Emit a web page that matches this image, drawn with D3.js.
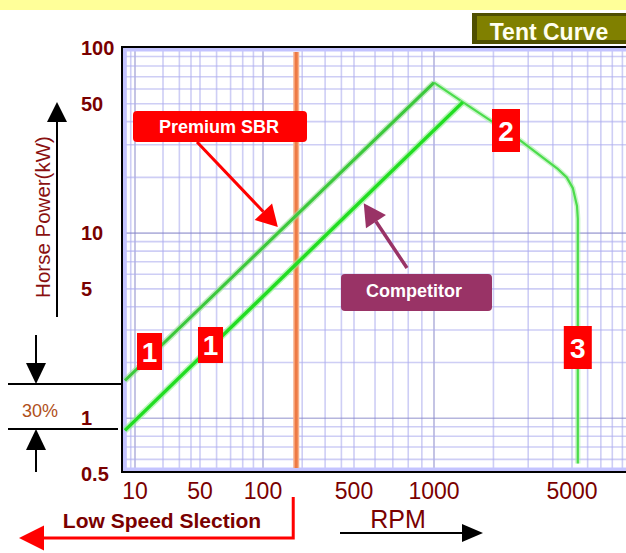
<!DOCTYPE html>
<html>
<head>
<meta charset="utf-8">
<script src="https://cdn.jsdelivr.net/npm/d3@7"></script>
<style>
	body { margin: 0; background: #fff; }
	text { font-family: 'Liberation Sans', Arial, sans-serif; }
</style>
</head>
<body>
<svg id="chart"></svg>
<script>
// tick labels
const rpmTicks = [10, 50, 100, 500, 1000, 5000]
const powerTicks = [100, 50, 10, 5, 1, 0.5]

// curves (rpm / kW)
const premiumRpm = [7.8, 1000]
const premiumKw = [1.6, 65]
const competitorRpm = [7.8, 1400]
const competitorKw = [0.86, 51]
const tentRpm = [1000, 1400, 2700, 4200, 4700, 5050, 5300, 5350, 5350]
const tentKw = [65, 51, 32, 22.4, 20, 17.5, 14, 12, 0.57]

// low speed selection boundary
const lowSpeedRpm = 180

// log paper grid
const gridRpm = [8, 9].concat(...[10, 100, 1000].map(d => d3.range(1, 10).map(k => k * d)))
const gridKw = [0.6, 0.7, 0.8, 0.9].concat(...[1, 10].map(d => d3.range(1, 10).map(k => k * d)))

const DARK_RED = '#7a0000'
const RED = '#ff0000'
const PURPLE = '#993366'

const width = 626
const height = 553
const plot = { left: 122, top: 47, right: 640, bottom: 472 }

const svg = d3.select('#chart')
	.attr('width', width)
	.attr('height', height)

// the x axis of the original is hand drawn, so it is piecewise log
const x = d3.scaleLog()
	.domain(rpmTicks)
	.range([135, 200, 263, 354, 434, 572])

const y = d3.scaleLog()
	.domain([0.5, 100])
	.range([474, 48])

// yellow band on top
svg.append('rect')
	.attr('x', 0).attr('y', 0)
	.attr('width', width).attr('height', 10)
	.attr('fill', '#ffff99')

svg.append('clipPath').attr('id', 'plot-clip')
	.append('rect')
	.attr('x', plot.left).attr('y', plot.top)
	.attr('width', plot.right - plot.left).attr('height', plot.bottom - plot.top)

let plotG = svg.append('g').attr('clip-path', 'url(#plot-clip)')

plotG.append('rect')
	.attr('x', plot.left).attr('y', plot.top)
	.attr('width', plot.right - plot.left).attr('height', plot.bottom - plot.top)
	.attr('fill', '#fff')

// grid
plotG.selectAll('.grid-x')
	.data(gridRpm)
	.enter()
		.append('line')
		.attr('class', 'grid-x')
		.attr('x1', d => x(d)).attr('x2', d => x(d))
		.attr('y1', plot.top).attr('y2', plot.bottom)
		.attr('stroke', d => [10, 100, 1000].includes(d) ? '#8585c8' : '#aeaef0')
		.attr('stroke-width', 1.6)
		.attr('opacity', 0.6)

plotG.selectAll('.grid-y')
	.data(gridKw)
	.enter()
		.append('line')
		.attr('class', 'grid-y')
		.attr('x1', plot.left).attr('x2', plot.right)
		.attr('y1', d => y(d)).attr('y2', d => y(d))
		.attr('stroke', d => [1, 10].includes(d) ? '#8585c8' : '#aeaef0')
		.attr('stroke-width', 1.6)
		.attr('opacity', 0.6)

// soft blue edge inside the frame
plotG.append('rect')
	.attr('x', plot.left + 2).attr('y', plot.top + 2)
	.attr('width', plot.right - plot.left).attr('height', plot.bottom - plot.top - 4)
	.attr('fill', 'none')
	.attr('stroke', '#c4c4ff')
	.attr('stroke-width', 5)

// low speed boundary
plotG.append('line')
	.attr('x1', x(lowSpeedRpm)).attr('x2', x(lowSpeedRpm))
	.attr('y1', plot.top + 5).attr('y2', plot.bottom - 4)
	.attr('stroke', '#f7b08a').attr('stroke-width', 6)
plotG.append('line')
	.attr('x1', x(lowSpeedRpm)).attr('x2', x(lowSpeedRpm))
	.attr('y1', plot.top + 5).attr('y2', plot.bottom - 4)
	.attr('stroke', '#ee7a45').attr('stroke-width', 3)

let line = d3.line()
	.x(d => x(d[0]))
	.y(d => y(d[1]))

function drawCurve(points, glow, core, w) {
	plotG.append('path')
		.attr('d', line(points))
		.attr('fill', 'none')
		.attr('stroke', glow)
		.attr('stroke-width', w + 3)
		.attr('stroke-linejoin', 'round')
		.attr('opacity', 0.6)
	plotG.append('path')
		.attr('d', line(points))
		.attr('fill', 'none')
		.attr('stroke', core)
		.attr('stroke-width', w)
		.attr('stroke-linejoin', 'round')
}

drawCurve(d3.zip(tentRpm, tentKw), '#a8eea8', '#4cdc4c', 2.2)
drawCurve(d3.zip(premiumRpm, premiumKw), '#99e099', '#3cc83c', 3)
drawCurve(d3.zip(competitorRpm, competitorKw), '#8cf08c', '#22dd22', 3.4)

// frame
svg.append('path')
	.attr('d', `M${plot.right},${plot.top}H${plot.left}V${plot.bottom}H${plot.right}`)
	.attr('fill', 'none')
	.attr('stroke', '#000')
	.attr('stroke-width', 2)

function arrow(g, x1, y1, x2, y2, color, w, headLen, headHalf) {
	let a = Math.atan2(y2 - y1, x2 - x1)
	let bx = x2 - headLen * Math.cos(a)
	let by = y2 - headLen * Math.sin(a)
	g.append('line')
		.attr('x1', x1).attr('y1', y1)
		.attr('x2', bx).attr('y2', by)
		.attr('stroke', color)
		.attr('stroke-width', w)
	let px = -Math.sin(a) * headHalf
	let py = Math.cos(a) * headHalf
	g.append('path')
		.attr('d', `M${x2},${y2}L${bx + px},${by + py}L${bx - px},${by - py}Z`)
		.attr('fill', color)
}

// callouts
let callG = svg.append('g')

callG.append('rect')
	.attr('x', 133).attr('y', 111)
	.attr('width', 174).attr('height', 31)
	.attr('rx', 4)
	.attr('fill', RED)
callG.append('text')
	.attr('x', 219).attr('y', 133)
	.attr('text-anchor', 'middle')
	.style('font-size', '18px').style('font-weight', '700')
	.attr('fill', '#fff')
	.text('Premium SBR')
arrow(callG, 197, 142, x(130), y(10.8), RED, 3, 21, 12)

callG.append('rect')
	.attr('x', 341).attr('y', 274)
	.attr('width', 151).attr('height', 37)
	.attr('rx', 4)
	.attr('fill', PURPLE)
callG.append('text')
	.attr('x', 414).attr('y', 297)
	.attr('text-anchor', 'middle')
	.style('font-size', '18px').style('font-weight', '700')
	.attr('fill', '#fff')
	.text('Competitor')
arrow(callG, 407, 268, x(544), y(14.5), PURPLE, 3.5, 22, 12)

// numbered badges
let badges = [
	{ label: '1', x: 137, y: 333, w: 25, h: 37 },
	{ label: '1', x: 198, y: 327, w: 25, h: 36 },
	{ label: '2', x: 492, y: 109, w: 28, h: 43 },
	{ label: '3', x: x(5350) - 14, y: 326, w: 28, h: 43 },
]
let badgeG = svg.selectAll('.badge')
	.data(badges)
	.enter()
		.append('g')
		.attr('class', 'badge')
		.attr('transform', d => `translate(${d.x},${d.y})`)
badgeG.append('rect')
	.attr('width', d => d.w).attr('height', d => d.h)
	.attr('fill', RED)
badgeG.append('text')
	.attr('x', d => d.w / 2).attr('y', d => d.h / 2 + 10)
	.attr('text-anchor', 'middle')
	.style('font-size', '28px').style('font-weight', '700')
	.attr('fill', '#fff')
	.text(d => d.label)

// Tent Curve tag
svg.append('rect')
	.attr('x', 472).attr('y', 13)
	.attr('width', 160).attr('height', 31)
	.attr('fill', '#4f4f00')
svg.append('rect')
	.attr('x', 477).attr('y', 16)
	.attr('width', 160).attr('height', 24)
	.attr('fill', '#808000')
svg.append('text')
	.attr('x', 549).attr('y', 40)
	.attr('text-anchor', 'middle')
	.style('font-size', '23px').style('font-weight', '700')
	.attr('fill', '#fffff0')
	.text('Tent Curve')

// y ticks
svg.selectAll('.y-tick')
	.data(powerTicks)
	.enter()
		.append('text')
		.attr('class', 'y-tick')
		.attr('x', 81)
		.attr('y', d => y(d) + 7)
		.style('font-size', '20px').style('font-weight', '700')
		.attr('fill', DARK_RED)
		.text(d => d)

// x ticks
svg.selectAll('.x-tick')
	.data(rpmTicks)
	.enter()
		.append('text')
		.attr('class', 'x-tick')
		.attr('x', d => x(d))
		.attr('y', 499)
		.attr('text-anchor', 'middle')
		.style('font-size', '23px')
		.attr('fill', DARK_RED)
		.text(d => d)

// y title with arrow
svg.append('text')
	.attr('transform', 'translate(50,217) rotate(-90)')
	.attr('text-anchor', 'middle')
	.style('font-size', '20.5px')
	.attr('fill', '#8a1010')
	.text('Horse Power(kW)')
arrow(svg, 57, 317, 57, 102, '#000', 2, 20, 10)

// 30% bracket
svg.append('line').attr('x1', 8).attr('x2', 122).attr('y1', 384).attr('y2', 384)
	.attr('stroke', '#000').attr('stroke-width', 2)
svg.append('line').attr('x1', 8).attr('x2', 118).attr('y1', 429).attr('y2', 429)
	.attr('stroke', '#000').attr('stroke-width', 2)
arrow(svg, 36, 335, 36, 384, '#000', 2, 21, 10)
arrow(svg, 36, 472, 36, 429, '#000', 2, 21, 10)
svg.append('text')
	.attr('x', 40).attr('y', 417)
	.attr('text-anchor', 'middle')
	.style('font-size', '18px')
	.attr('fill', '#b0501a')
	.text('30%')

// low speed selection
svg.append('path')
	.attr('d', `M${x(lowSpeedRpm) - 3},497V538H40`)
	.attr('fill', 'none')
	.attr('stroke', RED)
	.attr('stroke-width', 3)
arrow(svg, 44, 538, 19, 538, RED, 3, 25, 12.5)
svg.append('text')
	.attr('x', 162).attr('y', 528)
	.attr('text-anchor', 'middle')
	.style('font-size', '21px').style('font-weight', '700')
	.attr('fill', DARK_RED)
	.text('Low Speed Slection')

// RPM
svg.append('text')
	.attr('x', 398).attr('y', 528)
	.attr('text-anchor', 'middle')
	.style('font-size', '25px')
	.attr('fill', DARK_RED)
	.text('RPM')
arrow(svg, 340, 533, 483, 533, '#000', 2, 21, 9)
</script>
</body>
</html>
